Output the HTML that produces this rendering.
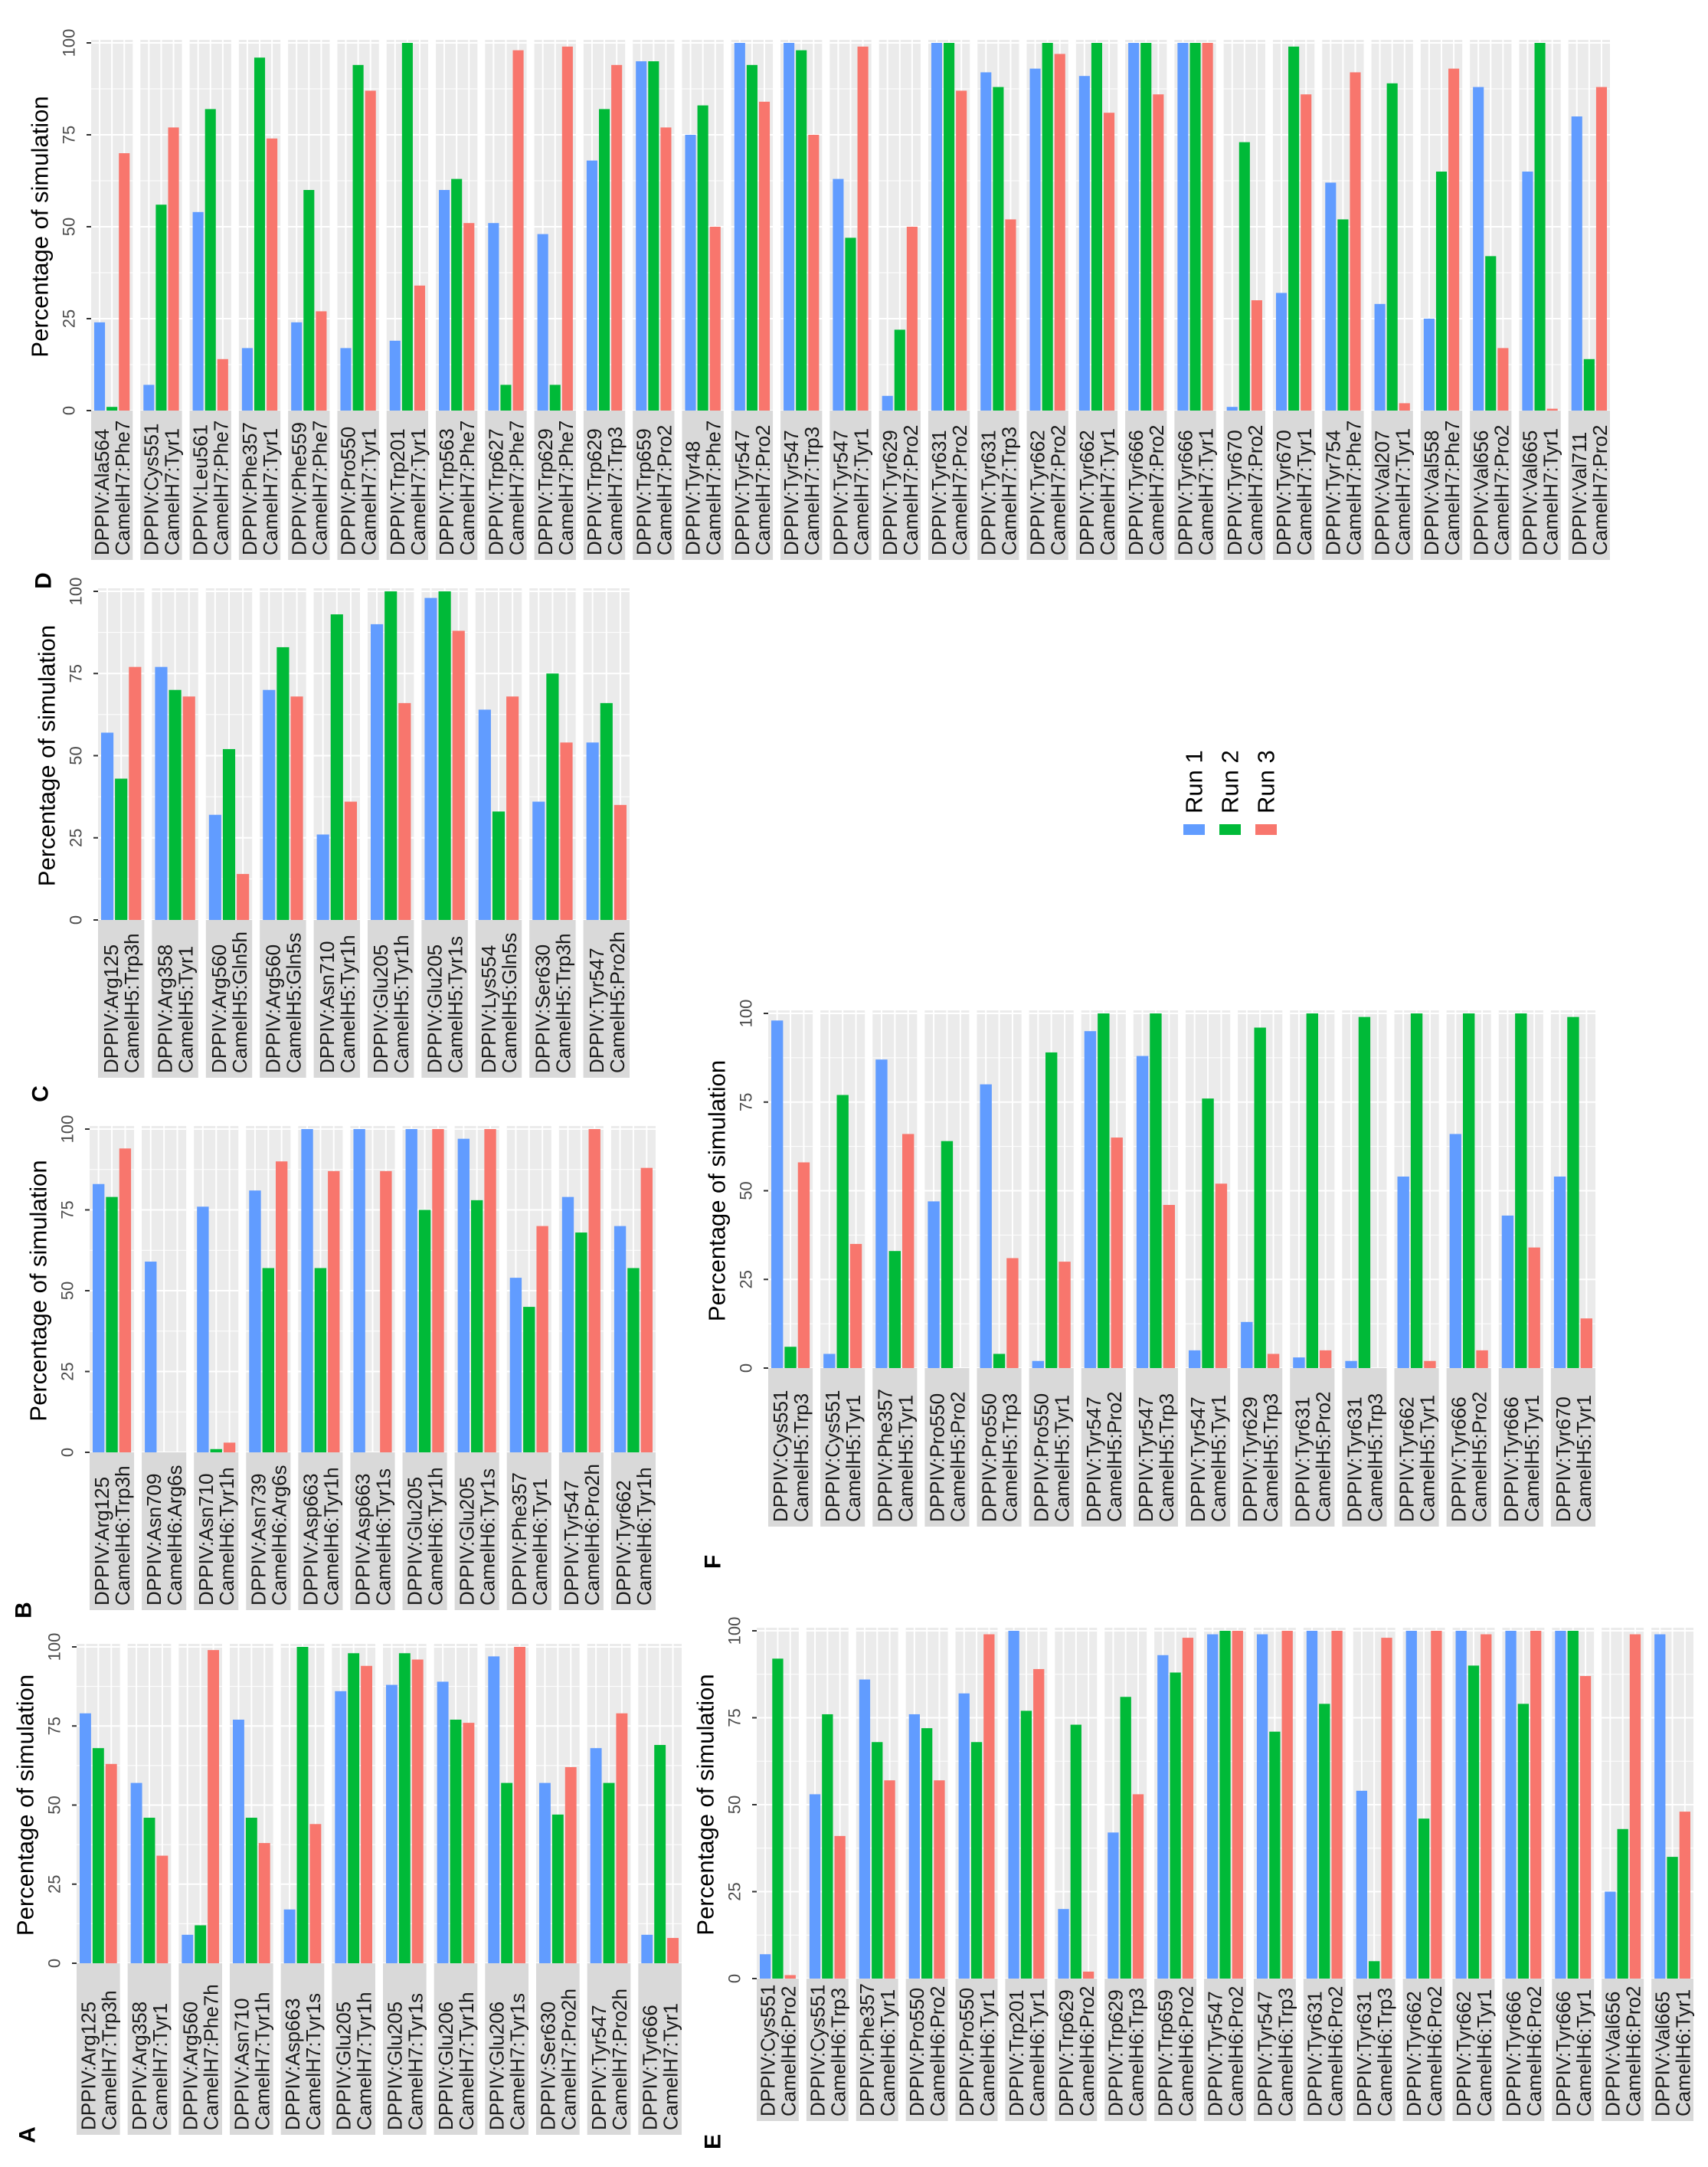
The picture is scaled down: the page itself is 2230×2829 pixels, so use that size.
<!DOCTYPE html>
<html><head><meta charset="utf-8"><style>
html,body{margin:0;padding:0;background:#fff;}
svg{display:block;font-family:"Liberation Sans",Arial,sans-serif;}
</style></head><body>
<svg id="s" xmlns="http://www.w3.org/2000/svg" width="2230" height="2829" viewBox="0 0 2230 2829"></svg>
<script>
const NS="http://www.w3.org/2000/svg";
const S=document.getElementById('s');
function el(t,a,txt){const e=document.createElementNS(NS,t);for(const k in a)e.setAttribute(k,a[k]);if(txt!==undefined)e.textContent=txt;S.appendChild(e);return e;}
const COL=['#619CFF','#00BA38','#F8766D'];
function panel(p){
  const n=p.d.length,gap=10;
  const w=(p.x1-p.x0-gap*(n-1))/n;
  const pitch=w+gap;
  const h=p.y0-p.y100;
  const Y=v=>p.y0-v/100*h;
  // axis
  [0,25,50,75,100].forEach(v=>{
    el('line',{x1:p.x0-6,x2:p.x0,y1:Y(v),y2:Y(v),stroke:'#333','stroke-width':2});
    const tx=p.x0-29,ty=Y(v);
    el('text',{x:tx,y:ty,'font-size':22,fill:'#4d4d4d','text-anchor':'middle','dominant-baseline':'central',transform:`rotate(-90 ${tx} ${ty})`},String(v));
  });
  const ax=p.x0-67,ay=(p.y0+p.y100)/2;
  el('text',{x:ax,y:ay,'font-size':31,fill:'#000','text-anchor':'middle','dominant-baseline':'central',transform:`rotate(-90 ${ax} ${ay})`},'Percentage of simulation');
  p.d.forEach((r,i)=>{
    const x=p.x0+i*pitch;
    const top=p.y100-4;
    el('rect',{x:x,y:top,width:w,height:p.y0-top,fill:'#EBEBEB'});
    for(let v=12.5;v<100;v+=25)el('line',{x1:x,x2:x+w,y1:Y(v),y2:Y(v),stroke:'#fff','stroke-width':1});
    [0,25,50,75,100].forEach(v=>el('line',{x1:x,x2:x+w,y1:Y(v),y2:Y(v),stroke:'#fff','stroke-width':2}));
    const m=3,bw=(w-2*m)/3;
    for(let k=0;k<3;k++){
      el('line',{x1:x+m+bw*(k+.5),x2:x+m+bw*(k+.5),y1:top,y2:p.y0,stroke:'#fff','stroke-width':2});
    }
    for(let k=0;k<3;k++){
      const v=r[k+2];
      if(v>0)el('rect',{x:x+m+bw*k+1,y:Y(v),width:bw-2,height:p.y0-Y(v),fill:COL[k]});
    }
    // strip
    el('rect',{x:x,y:p.y0,width:w,height:p.sb-p.y0,fill:'#D9D9D9'});
    const c=x+w/2,ty=p.sb-6;
    el('text',{x:c-13,y:ty,'font-size':26,fill:'#1a1a1a','dominant-baseline':'central',transform:`rotate(-90 ${c-13} ${ty})`},'DPPIV:'+r[0]);
    el('text',{x:c+14,y:ty,'font-size':26,fill:'#1a1a1a','dominant-baseline':'central',transform:`rotate(-90 ${c+14} ${ty})`},p.cam+':'+r[1]);
  });
}
function letter(t,x,y){el('text',{x:x,y:y,'font-size':30,'font-weight':'bold',fill:'#000','text-anchor':'middle','dominant-baseline':'central',transform:`rotate(-90 ${x} ${y})`},t);}

panel({x0:119,x1:2102,y100:56,y0:536,sb:731,cam:'CamelH7',d:[
['Ala564','Phe7',24,1,70],['Cys551','Tyr1',7,56,77],['Leu561','Phe7',54,82,14],['Phe357','Tyr1',17,96,74],
['Phe559','Phe7',24,60,27],['Pro550','Tyr1',17,94,87],['Trp201','Tyr1',19,100,34],['Trp563','Phe7',60,63,51],
['Trp627','Phe7',51,7,98],['Trp629','Phe7',48,7,99],['Trp629','Trp3',68,82,94],['Trp659','Pro2',95,95,77],
['Tyr48','Phe7',75,83,50],['Tyr547','Pro2',100,94,84],['Tyr547','Trp3',100,98,75],['Tyr547','Tyr1',63,47,99],
['Tyr629','Pro2',4,22,50],['Tyr631','Pro2',100,100,87],['Tyr631','Trp3',92,88,52],['Tyr662','Pro2',93,100,97],
['Tyr662','Tyr1',91,100,81],['Tyr666','Pro2',100,100,86],['Tyr666','Tyr1',100,100,100],['Tyr670','Pro2',1,73,30],
['Tyr670','Tyr1',32,99,86],['Tyr754','Phe7',62,52,92],['Val207','Tyr1',29,89,2],['Val558','Phe7',25,65,93],
['Val656','Pro2',88,42,17],['Val665','Tyr1',65,100,0.5],['Val711','Pro2',80,14,88]]});

panel({x0:128,x1:822,y100:772,y0:1201,sb:1407,cam:'CamelH5',d:[
['Arg125','Trp3h',57,43,77],['Arg358','Tyr1',77,70,68],['Arg560','Gln5h',32,52,14],['Arg560','Gln5s',70,83,68],
['Asn710','Tyr1h',26,93,36],['Glu205','Tyr1h',90,100,66],['Glu205','Tyr1s',98,100,88],['Lys554','Gln5s',64,33,68],
['Ser630','Trp3h',36,75,54],['Tyr547','Pro2h',54,66,35]]});

panel({x0:117,x1:856,y100:1474,y0:1896,sb:2102,cam:'CamelH6',d:[
['Arg125','Trp3h',83,79,94],['Asn709','Arg6s',59,0,0],['Asn710','Tyr1h',76,1,3],['Asn739','Arg6s',81,57,90],
['Asp663','Tyr1h',100,57,87],['Asp663','Tyr1s',100,0,87],['Glu205','Tyr1h',100,75,100],['Glu205','Tyr1s',97,78,100],
['Phe357','Tyr1',54,45,70],['Tyr547','Pro2h',79,68,100],['Tyr662','Tyr1h',70,57,88]]});

panel({x0:100,x1:890,y100:2150,y0:2563,sb:2787,cam:'CamelH7',d:[
['Arg125','Trp3h',79,68,63],['Arg358','Tyr1',57,46,34],['Arg560','Phe7h',9,12,99],['Asn710','Tyr1h',77,46,38],
['Asp663','Tyr1s',17,100,44],['Glu205','Tyr1h',86,98,94],['Glu205','Tyr1s',88,98,96],['Glu206','Tyr1h',89,77,76],
['Glu206','Tyr1s',97,57,100],['Ser630','Pro2h',57,47,62],['Tyr547','Pro2h',68,57,79],['Tyr666','Tyr1',9,69,8]]});

panel({x0:1003,x1:2083,y100:1323,y0:1786,sb:1993,cam:'CamelH5',d:[
['Cys551','Trp3',98,6,58],['Cys551','Tyr1',4,77,35],['Phe357','Tyr1',87,33,66],['Pro550','Pro2',47,64,0],
['Pro550','Trp3',80,4,31],['Pro550','Tyr1',2,89,30],['Tyr547','Pro2',95,100,65],['Tyr547','Trp3',88,100,46],
['Tyr547','Tyr1',5,76,52],['Tyr629','Trp3',13,96,4],['Tyr631','Pro2',3,100,5],['Tyr631','Trp3',2,99,0],
['Tyr662','Tyr1',54,100,2],['Tyr666','Pro2',66,100,5],['Tyr666','Tyr1',43,100,34],['Tyr670','Tyr1',54,99,14]]});

panel({x0:988,x1:2211,y100:2129,y0:2583,sb:2769,cam:'CamelH6',d:[
['Cys551','Pro2',7,92,1],['Cys551','Trp3',53,76,41],['Phe357','Tyr1',86,68,57],['Pro550','Pro2',76,72,57],
['Pro550','Tyr1',82,68,99],['Trp201','Tyr1',100,77,89],['Trp629','Pro2',20,73,2],['Trp629','Trp3',42,81,53],
['Trp659','Pro2',93,88,98],['Tyr547','Pro2',99,100,100],['Tyr547','Trp3',99,71,100],['Tyr631','Pro2',100,79,100],
['Tyr631','Trp3',54,5,98],['Tyr662','Pro2',100,46,100],['Tyr662','Tyr1',100,90,99],['Tyr666','Pro2',100,79,100],
['Tyr666','Tyr1',100,100,87],['Val656','Pro2',25,43,99],['Val665','Tyr1',99,35,48]]});

letter('D',57,758);letter('C',53,1428);letter('B',31,2102);letter('A',36,2787);letter('F',931,2039);letter('E',931,2796);

// legend
[['Run 1',0],['Run 2',1],['Run 3',2]].forEach(([t,k])=>{
  const x=1559+k*47;
  el('rect',{x:x-14,y:1076,width:28,height:14,fill:COL[k]});
  el('text',{x:x,y:1062,'font-size':31,fill:'#000','dominant-baseline':'central',transform:`rotate(-90 ${x} 1062)`},t);
});
</script>
</body></html>
